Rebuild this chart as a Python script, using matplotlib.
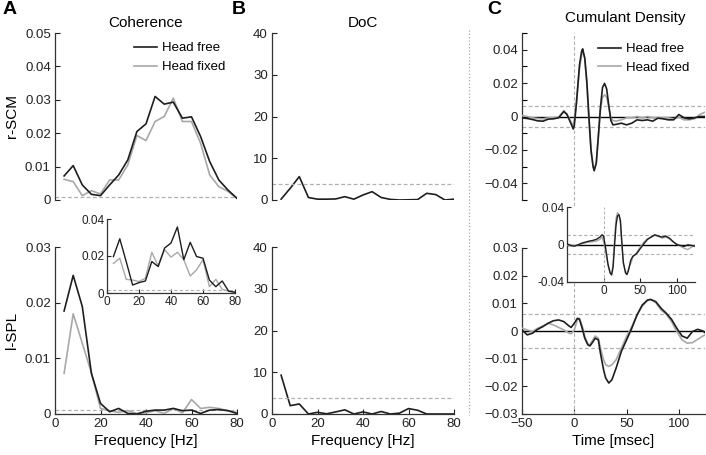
import matplotlib
matplotlib.use("Agg")
import matplotlib.pyplot as plt
from matplotlib.lines import Line2D
from matplotlib.ticker import FuncFormatter, MultipleLocator

plt.rcParams["font.family"] = ["Liberation Sans", "DejaVu Sans"]

DARK = "#1e1e1e"
GRAY = "#a8a8a8"
DASH = "#b0b0b0"

# ---- data -------------------------------------------------------------
freq = [4, 8, 12, 16, 20, 24, 28, 32, 36, 40, 44, 48, 52, 56, 60, 64, 68, 72, 76, 80]

coh_scm_free = [0.0072, 0.0103, 0.0045, 0.0017, 0.0013, 0.0045, 0.0075, 0.012, 0.0205, 0.0228,
                0.031, 0.0287, 0.0293, 0.0245, 0.0249, 0.019, 0.0115, 0.006, 0.003, 0.0005]
coh_scm_fixed = [0.0062, 0.0055, 0.0013, 0.0028, 0.0018, 0.006, 0.006, 0.0105, 0.0193, 0.0178,
                 0.0235, 0.025, 0.0305, 0.0235, 0.0235, 0.017, 0.0075, 0.004, 0.0026, 0.0005]
coh_scm_sig = 0.0008

coh_spl_free = [0.0185, 0.0249, 0.0193, 0.0073, 0.0019, 0.0004, 0.001, 0.0001, 0.0, 0.0005,
                0.0007, 0.0007, 0.001, 0.0006, 0.0007, 0.0001, 0.0007, 0.0008, 0.0006, 0.0001]
coh_spl_fixed = [0.0073, 0.018, 0.0127, 0.0074, 0.001, 0.0006, 0.0003, 0.0006, 0.0001, 0.0002,
                 0.0006, 0.0001, 0.001, 0.0002, 0.0026, 0.001, 0.0012, 0.001, 0.0006, 0.0003]
coh_spl_sig = 0.0008

# inset of panel A (zoomed l-SPL)
ins_a_free = [0.0197, 0.0293, 0.017, 0.0043, 0.0056, 0.0065, 0.017, 0.0143, 0.0243, 0.027,
              0.0357, 0.018, 0.0274, 0.0197, 0.0188, 0.007, 0.0034, 0.0065, 0.001, 0.0004]
ins_a_fixed = [0.016, 0.0188, 0.0074, 0.007, 0.0062, 0.008, 0.022, 0.0147, 0.0234, 0.0194,
               0.022, 0.018, 0.0092, 0.0125, 0.018, 0.0034, 0.0074, 0.002, 0.001, 0.0004]
ins_a_sig = 0.0016

doc_scm = [0.2, 2.8, 5.6, 0.6, 0.2, 0.2, 0.25, 0.8, 0.2, 1.2,
           2.0, 0.6, 0.15, 0.0, 0.05, 0.1, 1.6, 1.3, 0.0, 0.2]
doc_spl = [9.3, 2.0, 2.4, 0.0, 0.4, 0.05, 0.5, 1.0, 0.0, 0.5,
           0.0, 0.6, 0.0, 0.2, 1.3, 0.9, 0.0, 0.0, 0.0, 0.0]
doc_sig = 3.9

t_top = [-50, -45, -40, -35, -30, -25, -20, -15, -10, -7, -3, -1, 0, 2, 5, 7, 8, 10, 12, 14,
         16, 18, 19, 21, 23, 25, 27, 29, 31, 33, 35, 37, 40, 45, 50, 55, 60, 65, 70, 75,
         80, 85, 90, 95, 100, 105, 110, 115, 120, 125]
cum_scm_free = [-0.0008, -0.0012, -0.0018, -0.0026, -0.0028, -0.0016, -0.0014, -0.0008, 0.003, 0.0012,
                -0.0045, -0.0075, -0.0055, 0.0075, 0.031, 0.039, 0.0405, 0.035, 0.021, 0.0,
                -0.02, -0.03, -0.0325, -0.028, -0.012, 0.0055, 0.0174, 0.0198, 0.0164, 0.0065,
                -0.0024, -0.005, -0.0047, -0.004, -0.005, -0.004, -0.002, -0.0024, -0.002, -0.0028,
                -0.001, -0.0014, -0.002, -0.002, 0.0012, -0.0008, -0.0014, -0.0008, 0.0, 0.0]
cum_scm_fixed = [0.0006, 0.0, -0.0008, -0.0012, -0.0014, -0.0008, -0.0008, -0.0004, 0.0035, 0.0015,
                 -0.0035, -0.0055, -0.0025, 0.0085, 0.029, 0.037, 0.039, 0.035, 0.019, -0.0024,
                 -0.021, -0.03, -0.0318, -0.028, -0.012, 0.0036, 0.0115, 0.013, 0.0115, 0.0055,
                 -0.0008, -0.0024, -0.0028, -0.002, -0.0008, -0.0008, 0.0, -0.0008, 0.0, -0.0008,
                 -0.0008, -0.0008, -0.0008, -0.0014, -0.0004, -0.002, -0.002, -0.0014, 0.0012, 0.0026]

t_bot = [-50, -45, -40, -35, -30, -25, -20, -15, -10, -5, -3, 0, 3, 5, 8, 10, 13, 15, 18, 20,
         23, 25, 28, 30, 33, 36, 40, 45, 50, 55, 60, 65, 70, 73, 78, 83, 88, 93, 98, 103,
         108, 113, 118, 123, 125]
cum_spl_free = [0.0004, -0.0014, -0.0008, 0.0006, 0.0016, 0.0028, 0.0037, 0.004, 0.0034, 0.0018,
                0.0013, 0.0028, 0.0046, 0.0042, 0.0004, -0.0026, -0.005, -0.0054, -0.0038, -0.0026,
                -0.0032, -0.008, -0.014, -0.017, -0.0188, -0.0176, -0.0134, -0.0074, -0.0032, 0.001,
                0.0058, 0.0094, 0.0112, 0.0114, 0.0106, 0.0082, 0.0064, 0.0042, 0.001, -0.0018,
                -0.0026, -0.0002, 0.0006, 0.0, -0.0006]
cum_spl_fixed = [0.001, 0.0004, -0.0002, 0.001, 0.0018, 0.0028, 0.0022, 0.0013, 0.0004, -0.0008,
                 -0.001, 0.0004, 0.004, 0.0046, 0.0013, -0.002, -0.0047, -0.005, -0.003, -0.0018,
                 -0.0026, -0.0062, -0.0104, -0.0122, -0.0128, -0.0122, -0.0104, -0.0062, -0.002, 0.0016,
                 0.0058, 0.009, 0.011, 0.0114, 0.0102, 0.0076, 0.006, 0.0034, -0.0002, -0.0032,
                 -0.0044, -0.0042, -0.003, -0.0018, -0.0015]

t_ins = [-50, -45, -40, -35, -30, -25, -20, -15, -10, -5, -2, 0, 3, 6, 9, 11, 13, 15, 17, 19,
         21, 23, 25, 27, 30, 32, 34, 37, 40, 45, 50, 55, 60, 65, 70, 75, 80, 85, 90, 95,
         100, 105, 110, 115, 120, 125]
ins_c_free = [0.0007, -0.001, -0.0018, -0.0004, 0.0014, 0.0025, 0.0036, 0.0043, 0.0054, 0.0079,
              0.0104, 0.009, -0.0046, -0.0207, -0.0304, -0.0325, -0.0243, -0.0011, 0.0204, 0.0304,
              0.0318, 0.0257, 0.0025, -0.0189, -0.0304, -0.0321, -0.0279, -0.0171, -0.0125, -0.01,
              -0.0046, 0.0007, 0.0054, 0.0079, 0.0104, 0.009, 0.0079, 0.009, 0.0068, 0.0032,
              0.0, -0.001, -0.0021, -0.0004, -0.001, -0.0018]
ins_c_fixed = [-0.0004, -0.001, -0.001, -0.0004, 0.0007, 0.0018, 0.0025, 0.0029, 0.0036, 0.0054,
               0.0079, 0.0025, -0.0082, -0.0225, -0.0304, -0.0314, -0.0207, 0.0061, 0.0275, 0.034,
               0.0318, 0.0239, -0.0011, -0.0207, -0.0289, -0.0304, -0.0261, -0.0207, -0.0136, -0.0089,
               -0.0029, 0.0025, 0.0061, 0.0079, 0.0096, 0.0086, 0.0068, 0.0079, 0.0061, 0.0025,
               0.0007, -0.0018, -0.0039, -0.0054, -0.0029, -0.001]
cum_sig = 0.006
ins_c_sig = 0.0105

W, H = 706, 455


def px_axes(fig, left, top, right, bottom):
    """Add axes given pixel edges (origin top-left)."""
    return fig.add_axes([left / W, 1 - bottom / H, (right - left) / W, (bottom - top) / H])


def g_fmt(minus="\u2212"):
    return FuncFormatter(lambda v, p: ("%g" % round(v, 6)).replace("-", minus))


def style(ax, show_x=True, fs=9.5):
    for s in ("top", "right"):
        ax.spines[s].set_visible(False)
    for s in ("left", "bottom"):
        ax.spines[s].set_linewidth(0.9)
        ax.spines[s].set_color("#333333")
    ax.tick_params(direction="in", length=3.5, width=0.8, labelsize=fs, colors="#222222", pad=3)
    ax.tick_params(which="minor", direction="in", length=3.5, width=0.8)
    if not show_x:
        ax.spines["bottom"].set_visible(False)
        ax.tick_params(axis="x", which="both", bottom=False, labelbottom=False)
    ax.yaxis.set_major_formatter(g_fmt())


def pair(ax, x, free, fixed, lw=1.2):
    ax.plot(x, fixed, color=GRAY, lw=lw, label="Head fixed", zorder=3)
    ax.plot(x, free, color=DARK, lw=lw, label="Head free", zorder=4)


def legend(ax, x, y):
    h, l = ax.get_legend_handles_labels()
    ax.legend(h[::-1], l[::-1], frameon=False, loc="upper right", bbox_to_anchor=(x, y),
              borderaxespad=0, borderpad=0, fontsize=9.5, handlelength=1.7,
              handletextpad=0.4, labelspacing=0.5)


fig = plt.figure(figsize=(W / 100, H / 100), dpi=100)

# ---- panel A: coherence ------------------------------------------------
axA1 = px_axes(fig, 55, 33, 237, 200)
pair(axA1, freq, coh_scm_free, coh_scm_fixed)
axA1.axhline(coh_scm_sig, color=DASH, ls="--", lw=0.9, dashes=(3, 2))
axA1.set_xlim(0, 80)
axA1.set_ylim(0, 0.05)
axA1.set_yticks([0, 0.01, 0.02, 0.03, 0.04, 0.05])
style(axA1, show_x=False)
axA1.set_ylabel("r-SCM", fontsize=11)
axA1.yaxis.set_label_coords(-0.2, 0.5)
legend(axA1, 0.935, 0.945)
axA1.set_title("Coherence", fontsize=11, pad=4)

axA2 = px_axes(fig, 55, 247, 237, 414)
pair(axA2, freq, coh_spl_free, coh_spl_fixed)
axA2.axhline(coh_spl_sig, color=DASH, ls="--", lw=0.9, dashes=(3, 2))
axA2.set_xlim(0, 80)
axA2.set_ylim(0, 0.03)
axA2.set_xticks([0, 20, 40, 60, 80])
axA2.set_yticks([0, 0.01, 0.02, 0.03])
style(axA2)
axA2.set_ylabel("l-SPL", fontsize=11)
axA2.yaxis.set_label_coords(-0.2, 0.5)
axA2.set_xlabel("Frequency [Hz]", fontsize=11, labelpad=3)

axAi = px_axes(fig, 107, 219, 235, 293)
pair(axAi, freq, ins_a_free, ins_a_fixed, lw=1.0)
axAi.axhline(ins_a_sig, color=DASH, ls="--", lw=0.8, dashes=(3, 2))
axAi.set_xlim(0, 80)
axAi.set_ylim(0, 0.04)
axAi.set_xticks([0, 20, 40, 60, 80])
axAi.set_yticks([0, 0.02, 0.04])
style(axAi, fs=8.5)
axAi.tick_params(length=3, pad=2)

# ---- panel B: DoC ------------------------------------------------------
axB1 = px_axes(fig, 272, 33, 454, 200)
axB1.plot(freq, doc_scm, color=DARK, lw=1.2)
axB1.axhline(doc_sig, color=DASH, ls="--", lw=0.9, dashes=(3, 2))
axB1.set_xlim(0, 80)
axB1.set_ylim(0, 40)
axB1.set_yticks([0, 10, 20, 30, 40])
style(axB1, show_x=False)
axB1.set_title("DoC", fontsize=11, pad=4)

axB2 = px_axes(fig, 272, 247, 454, 414)
axB2.plot(freq, doc_spl, color=DARK, lw=1.2)
axB2.axhline(doc_sig, color=DASH, ls="--", lw=0.9, dashes=(3, 2))
axB2.set_xlim(0, 80)
axB2.set_ylim(0, 40)
axB2.set_xticks([0, 20, 40, 60, 80])
axB2.set_yticks([0, 10, 20, 30, 40])
style(axB2)
axB2.set_xlabel("Frequency [Hz]", fontsize=11, labelpad=3)

# ---- panel C: cumulant density -----------------------------------------
axC1 = px_axes(fig, 522, 33, 705, 200)
axC1.axvline(0, ymin=-0.3, ymax=1, color=DASH, ls="--", lw=0.8, dashes=(3, 2), clip_on=False)
for s in (cum_sig, -cum_sig):
    axC1.axhline(s, color=DASH, ls="--", lw=0.9, dashes=(3, 2))
axC1.axhline(0, color="black", lw=1.0)
pair(axC1, t_top, cum_scm_free, cum_scm_fixed)
axC1.set_xlim(-50, 125)
axC1.set_ylim(-0.05, 0.05)
axC1.set_yticks([-0.04, -0.02, 0, 0.02, 0.04])
axC1.yaxis.set_minor_locator(MultipleLocator(0.01))
style(axC1, show_x=False)
legend(axC1, 0.915, 0.94)

axC2 = px_axes(fig, 522, 248, 705, 414)
axC2.axvline(0, color=DASH, ls="--", lw=0.8, dashes=(3, 2))
for s in (cum_sig, -cum_sig):
    axC2.axhline(s, color=DASH, ls="--", lw=0.9, dashes=(3, 2))
axC2.axhline(0, color="black", lw=1.0)
pair(axC2, t_bot, cum_spl_free, cum_spl_fixed)
axC2.set_xlim(-50, 125)
axC2.set_ylim(-0.03, 0.03)
axC2.set_xticks([-50, 0, 50, 100])
axC2.set_yticks([-0.03, -0.02, -0.01, 0, 0.01, 0.02, 0.03])
style(axC2)
axC2.set_xlabel("Time [msec]", fontsize=11, labelpad=3)

axCi = px_axes(fig, 567, 207, 695, 282)
axCi.axvline(0, color=DASH, ls="--", lw=0.7, dashes=(3, 2))
for s in (ins_c_sig, -ins_c_sig):
    axCi.axhline(s, color=DASH, ls="--", lw=0.8, dashes=(3, 2))
axCi.axhline(0, color="black", lw=1.0)
pair(axCi, t_ins, ins_c_free, ins_c_fixed, lw=1.0)
axCi.set_xlim(-50, 125)
axCi.set_ylim(-0.04, 0.04)
axCi.set_xticks([0, 50, 100])
axCi.set_yticks([-0.04, 0, 0.04])
style(axCi, fs=8.5)
axCi.yaxis.set_major_formatter(g_fmt(minus="-"))
axCi.tick_params(length=3, pad=2)

fig.text(625 / W, 1 - 18 / H, "Cumulant Density", ha="center", va="center", fontsize=11)

# panel letters and separator
for x, s in ((3, "A"), (232, "B"), (487, "C")):
    fig.text(x / W, 1 - 10 / H, s, ha="left", va="center", fontsize=14, fontweight="bold")
fig.add_artist(Line2D([469 / W, 469 / W], [1 - 30 / H, 1 - 415 / H], color="#aaaaaa",
                      lw=0.9, ls=":", transform=fig.transFigure))

fig.savefig("out.png", dpi=100)
